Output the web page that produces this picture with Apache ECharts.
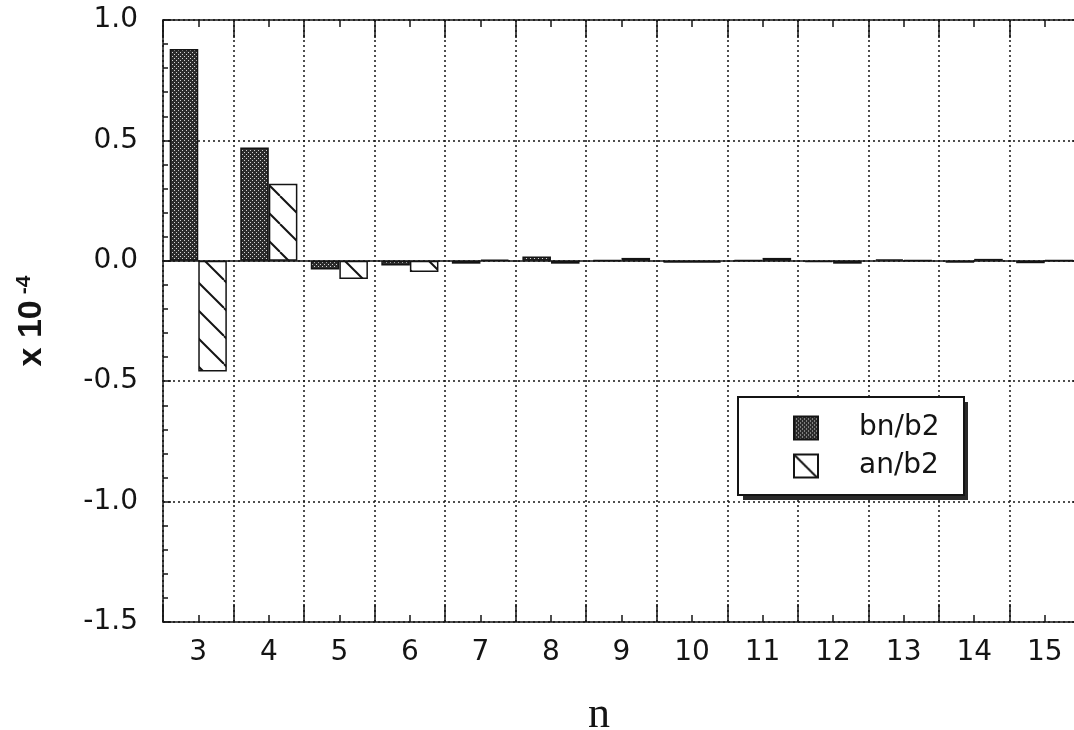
<!DOCTYPE html>
<html>
<head>
<meta charset="utf-8">
<script src="https://cdn.jsdelivr.net/npm/echarts@6/dist/echarts.min.js"></script>
<style>
  html, body { margin: 0; padding: 0; background: #fff; overflow: hidden; }
  /* the frame runs a few pixels past the right edge of the window */
  #chart { width: 1090px; height: 730px; }
</style>
</head>
<body>
<div id="chart"></div>
<script>
// Harmonic order n on the x axis
const categories = ['3', '4', '5', '6', '7', '8', '9', '10', '11', '12', '13', '14', '15'];
// Normalised multipole coefficients, in units of 1e-4
const bnValues = [0.88, 0.47, -0.036, -0.02, -0.012, 0.018, 0.003, -0.008, 0.003, -0.005, 0.006, -0.008, -0.01];
const anValues = [-0.46, 0.32, -0.076, -0.047, 0.004, -0.012, 0.012, -0.008, 0.012, -0.012, 0.003, 0.008, 0.002];
const seriesNames = ['bn/b2', 'an/b2'];
// Value axis range and step
const yMin = -1.5;
const yMax = 1.0;
const yStep = 0.5;

const ink = '#141414';
const sans = '"DejaVu Sans", Verdana, sans-serif';
const boldSans = '"Liberation Sans", Arial, sans-serif';

// Dark stippled fill
function stipple() {
  const c = document.createElement('canvas');
  c.width = 4; c.height = 4;
  const g = c.getContext('2d');
  g.fillStyle = '#2c2c2c';
  g.fillRect(0, 0, 4, 4);
  g.fillStyle = '#d4d4d4';
  g.fillRect(0, 0, 1, 1);
  g.fillRect(2, 2, 1, 1);
  return c;
}
// Back-slash hatching on white
function hatch() {
  const s = 28;
  const c = document.createElement('canvas');
  c.width = s; c.height = s;
  const g = c.getContext('2d');
  g.fillStyle = '#fff';
  g.fillRect(0, 0, s, s);
  g.strokeStyle = ink;
  g.lineWidth = 2;
  for (const o of [-s, 0, s]) {
    g.beginPath();
    g.moveTo(o, 0);
    g.lineTo(o + s, s);
    g.stroke();
  }
  return c;
}

const axisLineStyle = { color: ink, width: 1.5 };
const dotted = { color: ink, width: 1.5, type: [2, 3] };

function tickAxis(position, centred, length) {
  return {
    type: 'category',
    data: categories,
    position: position,
    boundaryGap: true,
    axisLine: { show: false, onZero: false },
    axisTick: { show: true, inside: true, alignWithLabel: centred, interval: 0, length: length, lineStyle: axisLineStyle },
    axisLabel: { show: false },
    splitLine: { show: false }
  };
}

// Legend box geometry
const legendBox = { left: 738, top: 397, width: 225, height: 98, shadow: 5 };

const chart = echarts.init(document.getElementById('chart'), null, { renderer: 'canvas' });

chart.setOption({
  animation: false,
  backgroundColor: '#fff',
  grid: { left: 163, top: 20, width: 917, height: 602, containLabel: false, outerBoundsMode: 'none' },
  graphic: [
    {
      type: 'rect',
      z: 3,
      silent: true,
      shape: {
        x: legendBox.left + legendBox.shadow,
        y: legendBox.top + legendBox.shadow,
        width: legendBox.width,
        height: legendBox.height
      },
      style: { fill: '#2a2a2a' }
    }
  ],
  legend: {
    orient: 'vertical',
    left: legendBox.left,
    top: legendBox.top,
    data: seriesNames,
    selectedMode: false,
    icon: 'rect',
    itemWidth: 24,
    itemHeight: 23,
    itemGap: 10,
    padding: [17, 15, 15, 55],
    backgroundColor: '#fff',
    borderColor: ink,
    borderWidth: 2,
    textStyle: { fontFamily: sans, fontSize: 28, color: ink, padding: [0, 0, 0, 36], width: 90, height: 28, lineHeight: 28 }
  },
  xAxis: [
    {
      type: 'category',
      data: categories,
      position: 'bottom',
      boundaryGap: true,
      axisLine: { show: true, onZero: false, lineStyle: axisLineStyle },
      axisTick: { show: true, inside: true, alignWithLabel: true, interval: 0, length: 7, lineStyle: axisLineStyle },
      axisLabel: { color: ink, fontFamily: sans, fontSize: 28, margin: 17, interval: 0 },
      splitLine: { show: true, interval: 0, lineStyle: dotted },
      name: 'n',
      nameLocation: 'middle',
      nameGap: 71,
      nameTextStyle: { fontFamily: '"Liberation Serif", "Times New Roman", serif', fontSize: 44, color: ink, padding: [0, 45, 0, 0] }
    },
    tickAxis('bottom', false, 18),
    Object.assign(tickAxis('top', true, 7), { axisLine: { show: true, onZero: false, lineStyle: axisLineStyle } }),
    tickAxis('top', false, 18)
  ],
  yAxis: [
    {
      type: 'value',
      min: yMin,
      max: yMax,
      interval: yStep,
      position: 'left',
      axisLine: { show: true, onZero: false, lineStyle: axisLineStyle },
      axisTick: { show: true, inside: true, length: 8, lineStyle: axisLineStyle },
      minorTick: { show: true, splitNumber: 5, length: 5, lineStyle: axisLineStyle },
      axisLabel: { color: ink, fontFamily: sans, fontSize: 28, margin: 25, formatter: v => v.toFixed(1) },
      splitLine: { show: true, lineStyle: dotted },
      name: '{m|x 10}{s|-4}',
      nameLocation: 'middle',
      nameRotate: 90,
      nameGap: 113,
      nameTextStyle: {
        rich: {
          m: { fontFamily: boldSans, fontWeight: 'bold', fontSize: 34, color: ink, lineHeight: 36 },
          s: { fontFamily: boldSans, fontWeight: 'bold', fontSize: 21, color: ink, verticalAlign: 'top', lineHeight: 36, padding: [0, 0, 0, 6] }
        }
      }
    },
    {
      type: 'value',
      min: yMin,
      max: yMax,
      interval: yStep,
      position: 'right',
      axisLine: { show: true, onZero: false, lineStyle: axisLineStyle },
      axisTick: { show: true, inside: true, length: 8, lineStyle: axisLineStyle },
      minorTick: { show: true, splitNumber: 5, length: 5, lineStyle: axisLineStyle },
      axisLabel: { show: false },
      splitLine: { show: false }
    }
  ],
  series: [
    {
      name: seriesNames[0],
      type: 'bar',
      data: bnValues,
      barGap: '0%',
      barCategoryGap: '19%',
      itemStyle: { color: { image: stipple(), repeat: 'repeat' }, borderColor: ink, borderWidth: 1.5 },
      markLine: {
        silent: true,
        symbol: 'none',
        label: { show: false },
        lineStyle: { color: ink, type: 'solid', width: 1.5 },
        data: [{ yAxis: 0 }]
      }
    },
    {
      name: seriesNames[1],
      type: 'bar',
      data: anValues,
      barGap: '0%',
      barCategoryGap: '19%',
      itemStyle: { color: { image: hatch(), repeat: 'repeat' }, borderColor: ink, borderWidth: 1.5 }
    }
  ]
});
</script>
</body>
</html>
